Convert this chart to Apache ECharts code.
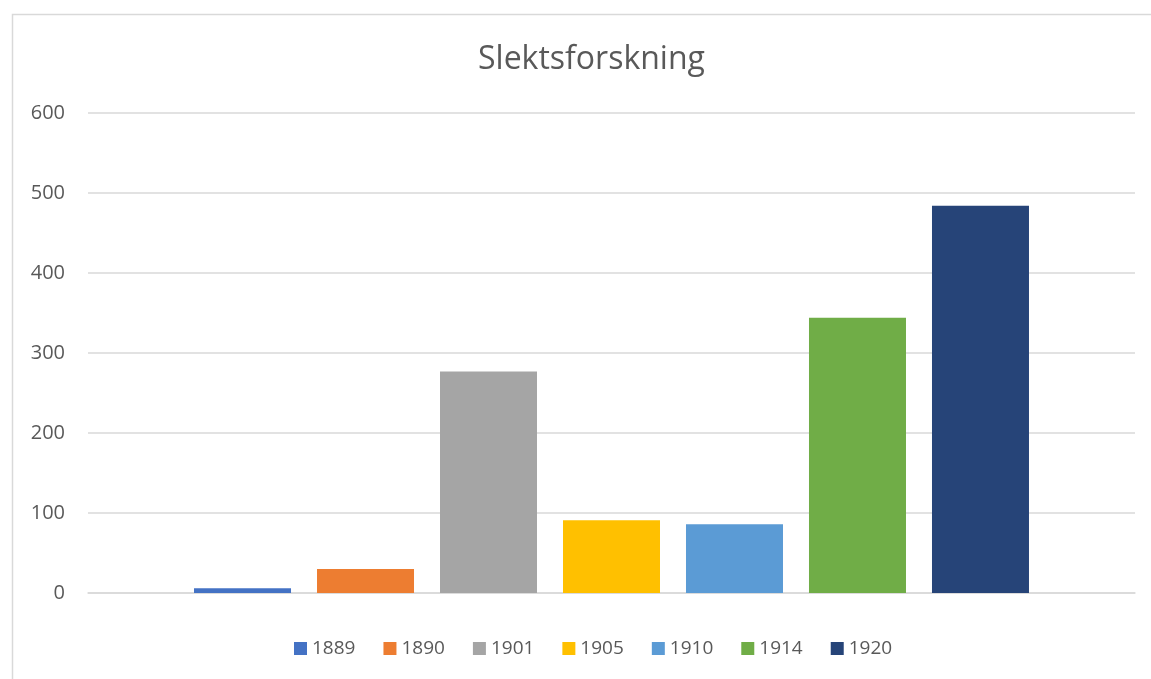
<!DOCTYPE html>
<html>
<head>
<meta charset="utf-8">
<script src="https://cdn.jsdelivr.net/npm/echarts@6/dist/echarts.min.js"></script>
<style>html,body{margin:0;padding:0;background:#fff;}#c{width:1151px;height:679px;}</style>
</head>
<body>
<div id="c"></div>
<script>
const titleText = 'Slektsforskning';
const categories = [''];
const seriesNames = ['1889', '1890', '1901', '1905', '1910', '1914', '1920'];
const seriesValues = [6, 30, 277, 91, 86, 344, 484];
const seriesColors = ['#4472C4', '#ED7D31', '#A5A5A5', '#FFC000', '#5B9BD5', '#70AD47', '#264478'];
const yTicks = { min: 0, max: 600, interval: 100 };

const FONT = '"Open Sans", "Noto Sans", sans-serif';
const chart = echarts.init(document.getElementById('c'), null, { renderer: 'canvas' });
chart.setOption({
  backgroundColor: '#fff',
  animation: false,
  title: {
    text: titleText, left: 473, top: 39,
    textStyle: { fontFamily: FONT, fontSize: 32, fontWeight: 'normal', color: '#595959' }
  },
  graphic: [{
    type: 'rect', shape: { x: 12.5, y: 14.5, width: 1300, height: 800 },
    style: { fill: 'none', stroke: '#d9d9d9', lineWidth: 1.5 }, silent: true, z: -1
  }],
  legend: {
    data: seriesNames, bottom: 16, left: 289, icon: 'rect', itemWidth: 13, itemHeight: 13, itemGap: 28,
    textStyle: { fontFamily: FONT, fontSize: 19, color: '#595959' }
  },
  grid: { left: 88, right: 16, top: 113, bottom: 86, containLabel: false },
  xAxis: {
    type: 'category', data: categories,
    axisLine: { lineStyle: { color: '#d9d9d9', width: 1.5 } },
    axisTick: { show: false }, axisLabel: { show: false }
  },
  yAxis: {
    type: 'value', min: yTicks.min, max: yTicks.max, interval: yTicks.interval,
    axisLine: { show: false }, axisTick: { show: false },
    axisLabel: { fontFamily: FONT, fontSize: 20, color: '#595959', margin: 23 },
    splitLine: { lineStyle: { color: '#d9d9d9', width: 1.5 } }
  },
  series: seriesNames.map((n, i) => ({
    name: n, type: 'bar', data: [seriesValues[i]], barWidth: 97, barGap: '26.8%',
    itemStyle: { color: seriesColors[i] }
  }))
});
</script>
</body>
</html>
